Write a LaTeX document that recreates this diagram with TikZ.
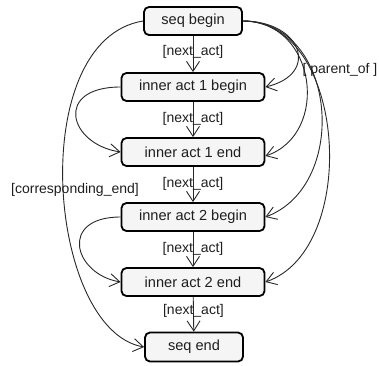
\documentclass[tikz,border=0pt]{standalone}
\usepackage{fontspec}
\setmainfont{Liberation Sans}
\usetikzlibrary{arrows.meta}
\definecolor{boxfill}{RGB}{245,245,245}
\definecolor{edgecol}{RGB}{40,40,40}
\definecolor{txtcol}{RGB}{30,30,30}
\begin{document}
\begin{tikzpicture}[x=1pt,y=-1pt,
  act/.style={draw=black, line width=1.8pt, fill=boxfill, rounded corners=5pt, minimum height=28pt, inner sep=0pt, text=txtcol, font=\fontsize{14.6}{16}\selectfont},
  seqbox/.style={act, minimum width=98pt},
  innerbox/.style={act, minimum width=143pt},
  flow/.style={draw=edgecol, line width=0.9pt, -{Straight Barb[length=10pt,width=13pt]}},
  lbl/.style={font=\fontsize{14}{15}\selectfont, inner sep=0pt, text=txtcol}
]
\useasboundingbox (0,0) rectangle (379,365);
\node[seqbox] (sb) at (193,21) {seq begin};
\node[innerbox] (ia1b) at (193,87) {inner act 1 begin};
\node[innerbox] (ia1e) at (193,152) {inner act 1 end};
\node[innerbox] (ia2b) at (193,217) {inner act 2 begin};
\node[innerbox] (ia2e) at (193,282) {inner act 2 end};
\node[seqbox, minimum height=29pt] (se) at (194,347) {seq end};

\draw[flow] (sb) -- node[lbl, pos=0.43]{[next\_act]} (ia1b);
\draw[flow] (ia1b) -- node[lbl, pos=0.47]{[next\_act]} (ia1e);
\draw[flow] (ia1e) -- node[lbl, pos=0.47]{[next\_act]} (ia2b);
\draw[flow] (ia2b) -- node[lbl, pos=0.47]{[next\_act]} (ia2e);
\draw[flow] (ia2e) -- node[lbl, pos=0.4]{[next\_act]} (se);

% parent_of curves
\draw[flow] (sb.east) .. controls +(59,0) and +(55,-13) .. (ia1b.east);
\draw[flow] (sb.east) .. controls +(74,0) and +(65,-22) .. ([yshift=-4pt]ia1e.east);
\draw[flow] (sb.east) .. controls +(94,0) and +(85,-32) .. (ia2b.east);
\draw[flow] (sb.east) .. controls +(104,0) and +(95,-33) .. (ia2e.east);
\node[lbl] (parentlbl) at (340,70) {[ parent\_of ]};

% inner loops
\draw[flow] (ia1b.west) .. controls +(-67,0) and +(-52,-8) .. (ia1e.west);
\draw[flow] (ia2b.west) .. controls +(-62,0) and +(-47,-8) .. (ia2e.west);

% corresponding end
\draw[flow] (sb.west) .. controls +(-118,19) and +(-97,-17) .. (se.west);
\node[lbl] (corrlbl) at (75,190) {[corresponding\_end]};
\end{tikzpicture}
\end{document}
